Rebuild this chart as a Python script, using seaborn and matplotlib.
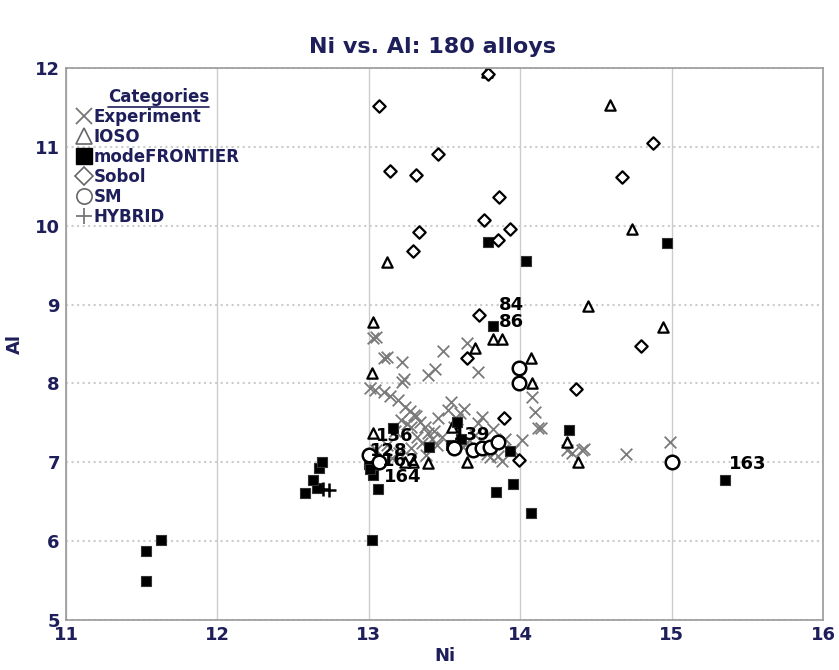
import numpy as np
import pandas as pd
import matplotlib.pyplot as plt
import seaborn as sns
from matplotlib.lines import Line2D

# values (Ni, Al per category)
exp_ni = [13.03, 13.05, 13.10, 13.12, 13.22, 13.22, 13.23, 13.39, 13.44, 13.49,
          13.65, 13.72, 13.01, 13.04, 13.10, 13.14, 13.19, 13.24, 13.27, 13.31,
          13.34, 13.37, 13.39, 13.28, 13.32, 13.35, 13.21, 13.52, 13.46, 13.54,
          13.75, 13.72, 13.78, 13.80, 13.95, 14.01, 14.08, 14.10, 14.12, 14.14,
          14.31, 14.34, 14.41, 14.42, 14.70, 14.99, 13.60, 13.63, 13.58, 13.42,
          13.45, 13.48, 13.28, 13.20, 13.15, 13.05, 13.85, 13.70, 13.66, 13.82,
          13.38, 13.43, 13.30, 13.25, 13.56, 13.62, 13.88, 13.90, 13.12, 13.17]
exp_al = [8.58, 8.59, 8.32, 8.33, 8.27, 8.02, 8.06, 8.11, 8.18, 8.41,
          8.51, 8.14, 7.94, 7.92, 7.89, 7.84, 7.79, 7.70, 7.65, 7.59,
          7.51, 7.45, 7.37, 7.45, 7.32, 7.24, 7.54, 7.66, 7.56, 7.76,
          7.58, 7.50, 7.11, 7.07, 7.16, 7.28, 7.83, 7.64, 7.43, 7.43,
          7.16, 7.12, 7.16, 7.17, 7.10, 7.26, 7.62, 7.68, 7.55, 7.30,
          7.22, 7.32, 7.18, 7.12, 7.05, 7.15, 7.08, 7.35, 7.28, 7.42,
          7.09, 7.40, 7.60, 7.48, 7.45, 7.20, 7.02, 7.30, 7.22, 7.40]

ioso_ni = [14.59, 13.78, 13.12, 14.74, 14.45, 14.94, 13.03, 13.02, 13.82, 13.88,
           13.70, 14.07, 14.08, 13.03, 13.29, 13.39, 13.65, 14.31, 14.38, 13.55,
           13.24]
ioso_al = [11.53, 11.95, 9.54, 9.96, 8.98, 8.71, 8.78, 8.13, 8.56, 8.56,
           8.45, 8.32, 8.00, 7.37, 7.00, 6.99, 7.00, 7.26, 7.00, 7.45,
           7.00]

mf_ni = [11.53, 11.53, 11.63, 12.58, 12.66, 12.67, 12.69, 12.63, 13.02, 13.06,
         13.03, 13.16, 13.40, 13.58, 13.54, 13.82, 13.79, 14.04, 14.97, 14.32,
         13.93, 13.84, 13.95, 14.07, 15.35, 13.00, 13.01, 13.61]
mf_al = [5.87, 5.49, 6.01, 6.61, 6.67, 6.93, 7.00, 6.78, 6.01, 6.66,
         6.84, 7.43, 7.19, 7.51, 7.22, 8.73, 9.79, 9.55, 9.78, 7.41,
         7.14, 6.62, 6.72, 6.36, 6.78, 6.98, 6.92, 7.30]

sobol_ni = [13.07, 13.14, 13.31, 13.46, 13.79, 13.33, 13.29, 13.76, 13.86, 13.85,
            13.93, 14.67, 14.88, 14.80, 13.73, 13.65, 14.37, 13.89, 13.99]
sobol_al = [11.52, 10.69, 10.64, 10.91, 11.92, 9.92, 9.68, 10.07, 10.36, 9.82,
            9.96, 10.62, 11.05, 8.47, 8.87, 8.32, 7.93, 7.56, 7.03]

sm_ni = [15.00, 13.99, 13.99, 13.00, 13.07, 13.56, 13.69, 13.75, 13.80, 13.85]
sm_al = [7.00, 8.19, 8.00, 7.09, 7.00, 7.18, 7.15, 7.18, 7.19, 7.26]

hyb_ni = [12.70, 12.74]
hyb_al = [6.66, 6.65]

categories = ['Experiment', 'IOSO', 'modeFRONTIER', 'Sobol', 'SM', 'HYBRID']

# annotated alloys: label -> (category, index in that category)
ann_labels = ['84', '86', '139', '136', '128', '162', '164', '163']
ann_points = [('modeFRONTIER', 15), ('modeFRONTIER', 15), ('modeFRONTIER', 13),
              ('IOSO', 13), ('SM', 3), ('SM', 4), ('modeFRONTIER', 9),
              ('modeFRONTIER', 24)]
ann_offset = [(4, 15), (4, 3), (-3, -9), (2, -2), (1, 3), (2, 1), (4, 9), (3, 11)]

frames = []
for cat, xs, ys in zip(categories,
                       [exp_ni, ioso_ni, mf_ni, sobol_ni, sm_ni, hyb_ni],
                       [exp_al, ioso_al, mf_al, sobol_al, sm_al, hyb_al]):
    frames.append(pd.DataFrame({'Ni': xs, 'Al': ys, 'cat': cat}))
df = pd.concat(frames, ignore_index=True)

navy = '#1e1e5a'
sns.set_style('white')
plt.rcParams['font.family'] = ['DejaVu Sans']
plt.rcParams['font.weight'] = 'bold'

fig = plt.figure(figsize=(8.39, 6.70), dpi=100)
ax = fig.add_axes([0.0787, 0.0746, 0.9023, 0.8239])

styles = {
    'Experiment':   dict(marker='x', color='#7a7a7a', s=70, linewidth=1.3),
    'IOSO':         dict(marker='^', facecolor='white', edgecolor='black', s=55, linewidth=1.6),
    'modeFRONTIER': dict(marker='s', color='black', edgecolor='#333333', s=55, linewidth=0.8),
    'Sobol':        dict(marker='D', facecolor='white', edgecolor='black', s=40, linewidth=1.6),
    'SM':           dict(marker='o', facecolor='white', edgecolor='black', s=95, linewidth=1.8),
    'HYBRID':       dict(marker='+', color='black', s=110, linewidth=1.8),
}
for cat in categories:
    sub = df[df['cat'] == cat]
    sns.scatterplot(data=sub, x='Ni', y='Al', ax=ax, legend=False, **styles[cat])

for lab, (cat, i), off in zip(ann_labels, ann_points, ann_offset):
    sub = df[df['cat'] == cat].reset_index(drop=True)
    ax.annotate(lab, (sub.loc[i, 'Ni'], sub.loc[i, 'Al']), xytext=off,
                textcoords='offset points', fontsize=13, fontweight='bold',
                color='black', ha='left', va='center')

ax.set_xlim(11, 16)
ax.set_ylim(5, 12)
ax.set_xticks(np.arange(11, 17, 1))
ax.set_yticks(np.arange(5, 13, 1))
ax.set_xticks(np.arange(11.5, 16, 1), minor=True)
ax.grid(True, axis='x', which='major', color='#cccccc', linewidth=1, linestyle='-')
ax.grid(True, axis='y', which='major', color='#cccccc', linewidth=1.5, linestyle=':')
ax.tick_params(axis='both', which='both', direction='inout', length=5, color='#888888',
               labelsize=13, labelcolor=navy, pad=2)
for lbl in ax.get_xticklabels() + ax.get_yticklabels():
    lbl.set_fontweight('bold')
for sp in ax.spines.values():
    sp.set_color('#999999')
    sp.set_linewidth(1.2)

ax.set_xlabel('Ni', fontsize=13, fontweight='bold', color=navy, labelpad=2)
ax.set_ylabel('Al', fontsize=13, fontweight='bold', color=navy, labelpad=8)
fig.suptitle('Ni vs. Al: 180 alloys', x=0.515, y=0.945, fontsize=16,
             fontweight='bold', color=navy)

handles = []
for cat in categories:
    st = styles[cat]
    if cat in ('Experiment', 'HYBRID'):
        h = Line2D([], [], linestyle='none', marker=st['marker'], color='#777777',
                   markersize=11, markeredgewidth=1.3)
    elif cat == 'modeFRONTIER':
        h = Line2D([], [], linestyle='none', marker='s', color='black', markersize=11)
    else:
        h = Line2D([], [], linestyle='none', marker=st['marker'], markerfacecolor='white',
                   markeredgecolor='#666666', markersize=11 if cat != 'Sobol' else 9,
                   markeredgewidth=1.2)
    handles.append(h)
leg = ax.legend(handles, categories, title='Categories', loc='upper left',
                bbox_to_anchor=(0.0, 0.985), frameon=False, handlelength=0.8,
                handletextpad=0.15, labelspacing=0.12, borderaxespad=0.3,
                prop={'weight': 'bold', 'size': 12})
leg.get_title().set_fontsize(12)
leg.get_title().set_fontweight('bold')
leg.get_title().set_color(navy)
for t in leg.get_texts():
    t.set_color(navy)

# underline the legend title
fig.canvas.draw()
bb = leg.get_title().get_window_extent().transformed(fig.transFigure.inverted())
fig.add_artist(Line2D([bb.x0, bb.x1], [bb.y0 - 0.002, bb.y0 - 0.002], color=navy,
                      linewidth=1.2, transform=fig.transFigure))

fig.savefig('out.png', dpi=100)
